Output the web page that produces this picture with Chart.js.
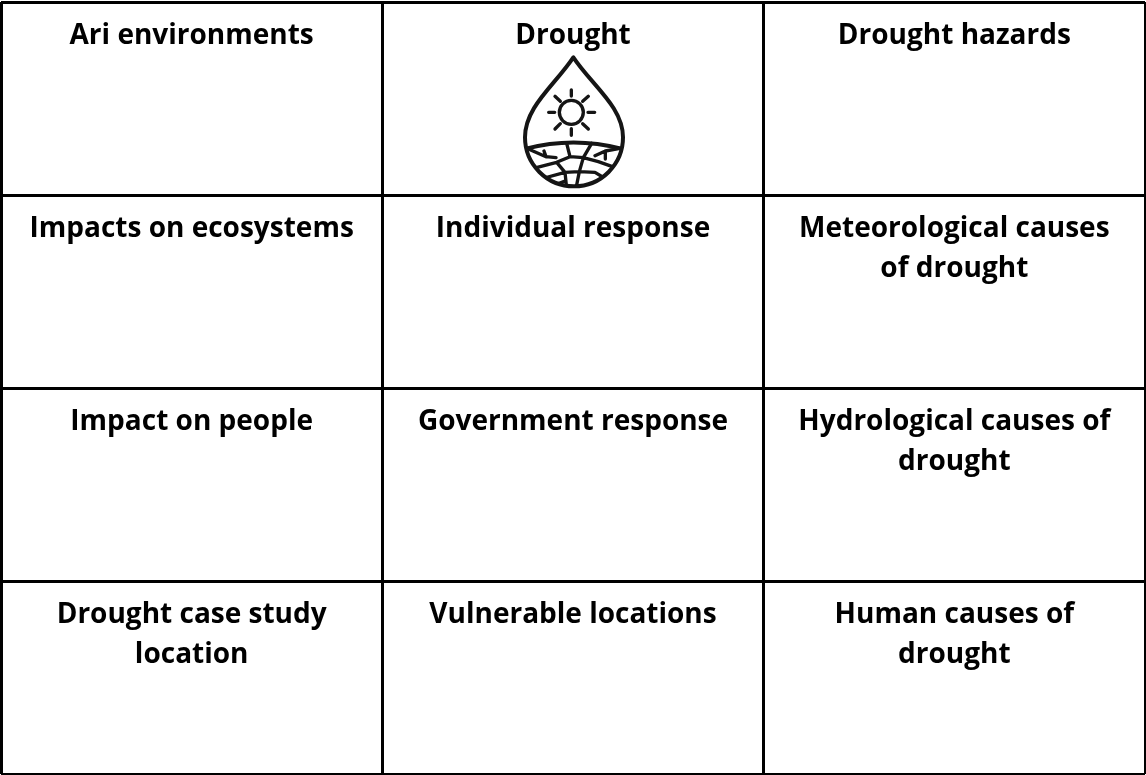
<!DOCTYPE html>
<html>
<head>
<meta charset="utf-8">
<title>Drought</title>
<script src="https://cdn.jsdelivr.net/npm/chart.js@4/dist/chart.umd.min.js"></script>
<style>
html, body { margin: 0; padding: 0; background: #fff; }
#wrap { width: 1146px; height: 775px; }
</style>
</head>
<body>
<div id="wrap"><canvas id="myChart" width="1146" height="775"></canvas></div>
<script>
'use strict';

let columns = [0, 1, 2];
let rows = [0, 1, 2, 3];
let cellLabels = [
    [['Ari environments'], ['Drought'], ['Drought hazards']],
    [['Impacts on ecosystems'], ['Individual response'], ['Meteorological causes', 'of drought']],
    [['Impact on people'], ['Government response'], ['Hydrological causes of', 'drought']],
    [['Drought case study', 'location'], ['Vulnerable locations'], ['Human causes of', 'drought']]
];

// icon under the "Drought" title, in a 3x space starting at the icon corner
function drawIcon(ctx, left, top) {
    let drop = new Path2D('M220 -8 C165 75 75 140 75 232 A147 147 0 0 0 369 232 C369 140 275 75 220 -8 Z');
    ctx.save();
    ctx.translate(left, top);
    ctx.scale(1 / 3, 1 / 3);
    ctx.strokeStyle = '#151515';
    ctx.lineCap = 'round';
    ctx.lineJoin = 'round';
    ctx.lineWidth = 10;
    ctx.stroke(new Path2D('M250 157 A36 36 0 1 1 178 157 A36 36 0 1 1 250 157 Z'));
    ctx.stroke(new Path2D('M214 90V108 M214 206V226 M146 157H164 M264 157H284 M165 109L181 124 M265 109L248 124 M165 207L181 191 M265 207L248 191'));
    // ground and its cracks stay inside the drop
    ctx.save();
    ctx.clip(drop);
    ctx.lineWidth = 12;
    ctx.stroke(new Path2D('M78 266 Q220 229 364 266'));
    ctx.translate(60, 225);
    ctx.lineWidth = 10;
    ctx.stroke(new Path2D('M140 25L150 65L190 68L215 25 M150 65L110 82L40 100 M110 82L135 112L62 132 M190 68L178 110L168 160 M135 112L178 110 M135 112L140 160 M190 68L235 80L292 100 M178 110L225 112L258 132 M100 152L135 138 M20 40L78 65L108 68 M78 65L72 48 M225 62L256 48L256 72 M256 48L300 40'));
    ctx.restore();
    ctx.lineWidth = 12;
    ctx.stroke(drop);
    ctx.restore();
}

let tablePlugin = {
    id: 'tableText',
    afterDraw(chart) {
        let ctx = chart.ctx;
        let xs = chart.scales.x;
        let ys = chart.scales.y;
        ctx.save();
        ctx.fillStyle = '#000';
        ctx.font = 'bold 28px "Open Sans"';
        ctx.textAlign = 'center';
        ctx.textBaseline = 'alphabetic';
        rows.forEach(function (r) {
            columns.forEach(function (c) {
                let lines = cellLabels[r][c];
                let cx = xs.getPixelForValue(c + 0.5);
                let topY = ys.getPixelForValue(r);
                lines.forEach(function (line, i) {
                    ctx.fillText(line, cx, topY + 42 + i * 40);
                });
            });
        });
        ctx.restore();
        drawIcon(ctx, 500, 60);
    }
};

let ctx = document.getElementById('myChart').getContext('2d');
let myChart = new Chart(ctx, {
    type: 'scatter',
    data: { datasets: [{ data: [], showLine: false }] },
    plugins: [tablePlugin],
    options: {
        responsive: false,
        animation: false,
        layout: { padding: { left: 1, right: 1, top: 2, bottom: 1 } },
        plugins: { legend: { display: false }, tooltip: { enabled: false }, title: { display: false } },
        scales: {
            x: {
                type: 'linear',
                min: 0,
                max: columns.length,
                ticks: { display: false, stepSize: 1 },
                border: { display: false },
                grid: { color: '#000', lineWidth: 3, drawTicks: false }
            },
            y: {
                type: 'linear',
                reverse: true,
                min: 0,
                max: rows.length,
                ticks: { display: false, stepSize: 1 },
                border: { display: false },
                grid: { color: '#000', lineWidth: 3, drawTicks: false }
            }
        }
    }
});
</script>
</body>
</html>
